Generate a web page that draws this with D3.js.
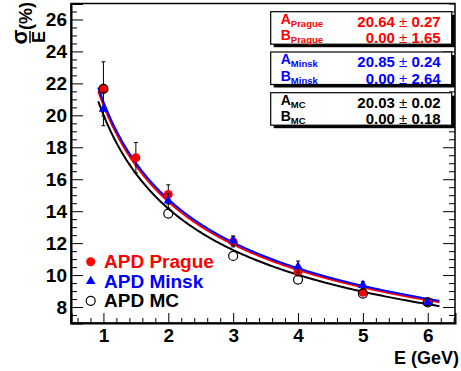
<!DOCTYPE html>
<html>
<head>
<meta charset="utf-8">
<script src="https://cdn.jsdelivr.net/npm/d3@7"></script>
<style>
  body { margin: 0; background: #fff; }
  svg { display: block; font-family: "Liberation Sans", Arial, sans-serif; }
</style>
</head>
<body>
<svg id="chart" width="461" height="371"></svg>
<script>
const pragueE = [1, 1.5, 2, 3, 4, 5, 6];
const pragueVal = [21.65, 17.35, 15.05, 12.08, 10.2, 8.92, 8.3];
const pragueErr = [1.7, 0.95, 0.6, 0.32, 0.25, 0.2, 0.15];

const minskE = [1, 2, 3, 4, 5, 6];
const minskVal = [20.4, 14.65, 12.15, 10.52, 9.37, 8.3];
const minskErr = [1.05, 0.45, 0.3, 0.36, 0.22, 0.2];

const mcE = [1, 2, 3, 4, 5, 6];
const mcVal = [21.65, 13.85, 11.2, 9.72, 8.84, 8.29];

// fit results sigma/E = sqrt(A^2/E + B^2)
const fitNames = ["Prague", "Minsk", "MC"];
const fitColors = ["#ff0000", "#0000ff", "#000000"];
const fitA = [20.64, 20.85, 20.03];
const fitAErr = [0.27, 0.24, 0.02];
const fitB = [0.00, 0.00, 0.00];
const fitBErr = [1.65, 2.64, 0.18];

const legendLabels = ["APD Prague", "APD Minsk", "APD MC"];

const xTicks = [1, 2, 3, 4, 5, 6];
const yTicks = [8, 10, 12, 14, 16, 18, 20, 22, 24, 26];

const svg = d3.select("#chart");
const frame = { left: 71, top: 3.5, right: 455, bottom: 323 };

const x = d3.scaleLinear().domain([0.5, 6.42]).range([frame.left, frame.right]);
const y = d3.scaleLinear().domain([7, 27]).range([frame.bottom, frame.top]);

// frame
svg.append("rect")
  .attr("x", frame.left).attr("y", frame.top)
  .attr("width", frame.right - frame.left).attr("height", frame.bottom - frame.top)
  .attr("fill", "none").attr("stroke", "#000").attr("stroke-width", 1.5);

// axes, ROOT style ticks pointing inside
const xMinor = d3.range(0.6, 6.42, 0.2).filter(v => Math.abs(v - Math.round(v)) > 0.01);
const yMinor = d3.range(7, 27.01, 0.5).filter(v => v % 2 !== 0);

svg.append("g")
  .attr("transform", `translate(0,${frame.bottom})`)
  .call(d3.axisBottom(x).tickValues(xMinor).tickSize(-5).tickFormat(""))
  .call(g => g.select(".domain").remove());

svg.append("g")
  .attr("class", "xaxis")
  .attr("transform", `translate(0,${frame.bottom})`)
  .call(d3.axisBottom(x).tickValues(xTicks).tickSize(-10).tickPadding(6).tickFormat(d3.format("d")))
  .call(g => g.select(".domain").attr("stroke-width", 2));

svg.append("g")
  .attr("transform", `translate(${frame.left},0)`)
  .call(d3.axisLeft(y).tickValues(yMinor).tickSize(-6).tickFormat(""))
  .call(g => g.select(".domain").remove());

svg.append("g")
  .attr("class", "yaxis")
  .attr("transform", `translate(${frame.left},0)`)
  .call(d3.axisLeft(y).tickValues(yTicks).tickSize(-12).tickPadding(4).tickFormat(d3.format("d")))
  .call(g => g.select(".domain").attr("stroke-width", 2));

// mirrored ticks on right side
svg.append("g")
  .attr("transform", `translate(${frame.right},0)`)
  .call(d3.axisRight(y).tickValues(yMinor).tickSize(-6).tickFormat(""))
  .call(g => g.select(".domain").remove());
svg.append("g")
  .attr("transform", `translate(${frame.right},0)`)
  .call(d3.axisRight(y).tickValues(yTicks).tickSize(-12).tickFormat(""))
  .call(g => g.select(".domain").remove());

svg.selectAll(".xaxis text, .yaxis text")
  .attr("font-family", "Liberation Sans, Arial, sans-serif")
  .attr("font-weight", "bold")
  .attr("font-size", 19)
  .attr("fill", "#000");

// axis titles
svg.append("text")
  .attr("x", 459).attr("y", 364)
  .attr("text-anchor", "end")
  .attr("font-weight", "bold").attr("font-size", 18)
  .text("E (GeV)");

const yt = svg.append("g").attr("transform", "translate(30,43) rotate(-90)");
yt.append("line").attr("x1", 0).attr("x2", 12).attr("y1", 0).attr("y2", 0)
  .attr("stroke", "#000").attr("stroke-width", 1.5);
yt.append("text").attr("x", 6).attr("y", -3).attr("text-anchor", "middle")
  .attr("font-weight", "bold").attr("font-size", 22).text("σ");
yt.append("text").attr("x", 6).attr("y", 15).attr("text-anchor", "middle")
  .attr("font-weight", "bold").attr("font-size", 18).text("E");
yt.append("text").attr("x", 13).attr("y", 2)
  .attr("font-weight", "bold").attr("font-size", 18).text("(%)");

// fit curves
const curveE = d3.range(0.92, 6.181, 0.02);
const line = d3.line().x(d => x(d[0])).y(d => y(d[1]));
[0, 2, 1].forEach(i => {
  const pts = curveE.map(e => [e, Math.sqrt(fitA[i] * fitA[i] / e + fitB[i] * fitB[i])]);
  svg.append("path").datum(pts)
    .attr("d", line)
    .attr("fill", "none")
    .attr("stroke", fitColors[i])
    .attr("stroke-width", 2);
});

function errorBars(es, vals, errs) {
  const g = svg.append("g").attr("stroke", "#000").attr("stroke-width", 1);
  es.forEach((e, i) => {
    const cx = x(e);
    g.append("line").attr("x1", cx).attr("x2", cx)
      .attr("y1", y(vals[i] - errs[i])).attr("y2", y(vals[i] + errs[i]));
    [vals[i] - errs[i], vals[i] + errs[i]].forEach(v => {
      g.append("line").attr("x1", cx - 2).attr("x2", cx + 2)
        .attr("y1", y(v)).attr("y2", y(v));
    });
  });
}

// Prague
errorBars(pragueE, pragueVal, pragueErr);
svg.append("g").selectAll("circle")
  .data(pragueE.map((e, i) => [e, pragueVal[i]]))
  .join("circle")
  .attr("cx", d => x(d[0])).attr("cy", d => y(d[1]))
  .attr("r", 4.5).attr("fill", "#ff0000");

// Minsk
errorBars(minskE, minskVal, minskErr);
const tri = d3.symbol(d3.symbolTriangle).size(40);
svg.append("g").selectAll("path")
  .data(minskE.map((e, i) => [e, minskVal[i]]))
  .join("path")
  .attr("transform", d => `translate(${x(d[0])},${y(d[1])})`)
  .attr("d", tri).attr("fill", "#0000ff");

// MC
svg.append("g").selectAll("circle")
  .data(mcE.map((e, i) => [e, mcVal[i]]))
  .join("circle")
  .attr("cx", d => x(d[0])).attr("cy", d => y(d[1]))
  .attr("r", 4.5).attr("fill", "none").attr("stroke", "#000").attr("stroke-width", 1.2);

// legend
const leg = svg.append("g");
legendLabels.forEach((lab, i) => {
  const by = 268.3 + i * 19.5;
  const mx = 90.7, my = by - 6.5;
  if (i === 0) leg.append("circle").attr("cx", mx).attr("cy", my).attr("r", 4.5).attr("fill", fitColors[0]);
  if (i === 1) leg.append("path").attr("transform", `translate(${mx},${my})`).attr("d", tri).attr("fill", fitColors[1]);
  if (i === 2) leg.append("circle").attr("cx", mx).attr("cy", my).attr("r", 4.5)
    .attr("fill", "none").attr("stroke", "#000").attr("stroke-width", 1.2);
  leg.append("text").attr("x", 104).attr("y", by)
    .attr("font-weight", "bold").attr("font-size", 19)
    .attr("fill", fitColors[i]).text(lab);
});

// fit parameter boxes
const boxTops = [11.7, 52, 92.7];
const boxH = 32.5;
const fmt = d3.format(".2f");
fitNames.forEach((name, i) => {
  const g = svg.append("g").attr("transform", `translate(270.7,${boxTops[i]})`);
  const w = 181;
  g.append("rect").attr("x", 3).attr("y", 3).attr("width", w).attr("height", boxH).attr("fill", "#000");
  g.append("rect").attr("x", 0).attr("y", 0).attr("width", w).attr("height", boxH)
    .attr("fill", "#fff").attr("stroke", "#000").attr("stroke-width", 1.2);
  const rows = [["A", fitA[i], fitAErr[i]], ["B", fitB[i], fitBErr[i]]];
  rows.forEach((r, j) => {
    const base = 12 + j * 16.5;
    const t = g.append("text").attr("x", 10).attr("y", base)
      .attr("font-weight", "bold").attr("font-size", 14).attr("fill", fitColors[i]);
    t.append("tspan").text(r[0]);
    t.append("tspan").attr("dy", 3).attr("font-size", 9.5).text(name);
    const v = g.append("text").attr("x", 170).attr("y", base + 3)
      .attr("text-anchor", "end").attr("font-size", 15).attr("fill", fitColors[i]);
    v.append("tspan").attr("font-weight", "bold").text(fmt(r[1]) + " ");
    v.append("tspan").attr("font-weight", "normal").text("±");
    v.append("tspan").attr("font-weight", "bold").text(" " + fmt(r[2]));
  });
});
</script>
</body>
</html>
